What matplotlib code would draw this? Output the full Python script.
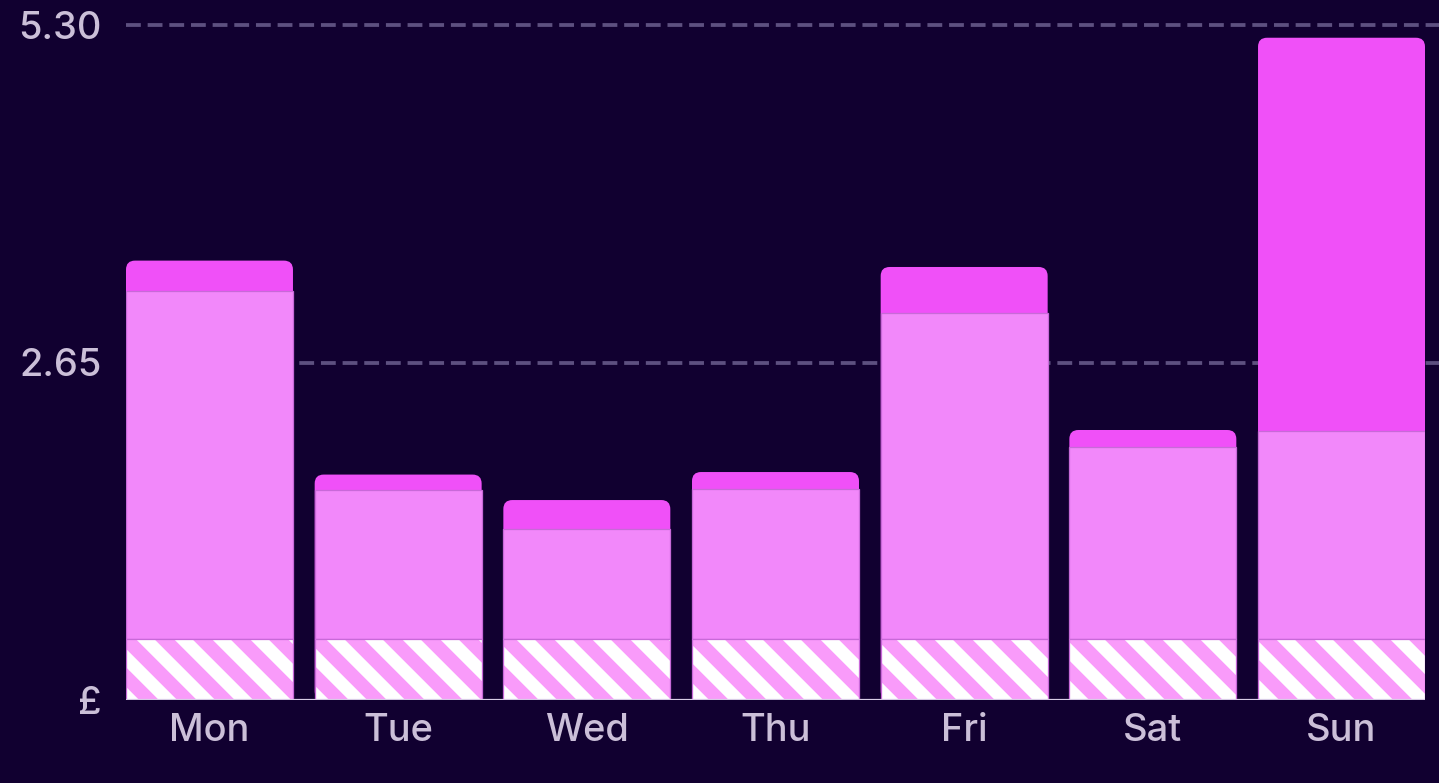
import matplotlib
matplotlib.use("Agg")
import matplotlib.pyplot as plt
import numpy as np
from matplotlib.patches import FancyBboxPatch

# ---- data ----
days = ["Mon", "Tue", "Wed", "Thu", "Fri", "Sat", "Sun"]
standing = [0.48, 0.48, 0.48, 0.48, 0.48, 0.48, 0.48]   # hatched bottom
usage = [2.73, 1.17, 0.86, 1.18, 2.56, 1.51, 1.63]       # light pink middle
peak = [0.24, 0.12, 0.23, 0.13, 0.36, 0.13, 3.09]        # magenta top
yticks = [0, 2.65, 5.30]
ytick_labels = ["£", "2.65", "5.30"]

# ---- style ----
BG = "#110030"
TOP = "#F050F8"
MID = "#F288FA"
BASE = "#F99BFA"
TXT = "#CBBFD8"
GRID = "#5D5080"

DPI = 228                      # hatch period = 2*dpi/12 px -> ~38 px stripes
W, H = 1439, 783
plt.rcParams["font.family"] = ["Inter", "DejaVu Sans"]
plt.rcParams["hatch.linewidth"] = 4.1

fig = plt.figure(figsize=(W / DPI, H / DPI), dpi=DPI, facecolor=BG)
ax = fig.add_axes([126 / W, (H - 700) / H, (1425 - 126) / W, (700 - 25) / H])
ax.set_facecolor(BG)

x = np.arange(len(days))
width = 0.885
ax.set_xlim(-width / 2, len(days) - 1 + width / 2)
ax.set_ylim(0, 5.30)

# dashed gridlines behind bars
for yv in yticks[1:]:
    ax.axhline(yv, xmin=0, xmax=1.011, color=GRID, lw=1.2, dashes=(3.9, 1.8),
               clip_on=False, zorder=0)

standing = np.array(standing)
usage = np.array(usage)
peak = np.array(peak)
mid_top = standing + usage
total = mid_top + peak

# rounded full-height bar in the peak colour (only its top corners stay visible)
xpp = (ax.get_xlim()[1] - ax.get_xlim()[0]) / (1425 - 126)
ypp = 5.30 / (700 - 25)
r = 9 * xpp
for xi, t in zip(x, total):
    ax.add_patch(FancyBboxPatch((xi - width / 2, 0), width, t,
                                boxstyle=f"round,pad=0,rounding_size={r}",
                                mutation_aspect=ypp / xpp,
                                fc=TOP, ec="none", zorder=2))

ax.bar(x, usage, width, bottom=standing, color=MID, edgecolor="#C869D8",
       linewidth=0.4, zorder=3)
ax.bar(x, standing, width, color=BASE, edgecolor="white", linewidth=0,
       hatch="\\\\", zorder=4)
ax.bar(x, standing, width, color="none", edgecolor="#C869D8", linewidth=0.4,
       zorder=5)

ax.axhline(0, color="#D8CCE6", lw=0.7, zorder=6)

for s in ax.spines.values():
    s.set_visible(False)
ax.set_xticks(x)
ax.set_xticklabels(days)
ax.set_yticks(yticks)
ax.set_yticklabels(ytick_labels)
ax.tick_params(length=0, colors=TXT, labelsize=12)
for lab in ax.get_xticklabels() + ax.get_yticklabels():
    lab.set_fontweight("medium")
ax.tick_params(axis="y", pad=7.6)
ax.tick_params(axis="x", pad=4.0)

fig.savefig("out.png", dpi=DPI, facecolor=BG)
